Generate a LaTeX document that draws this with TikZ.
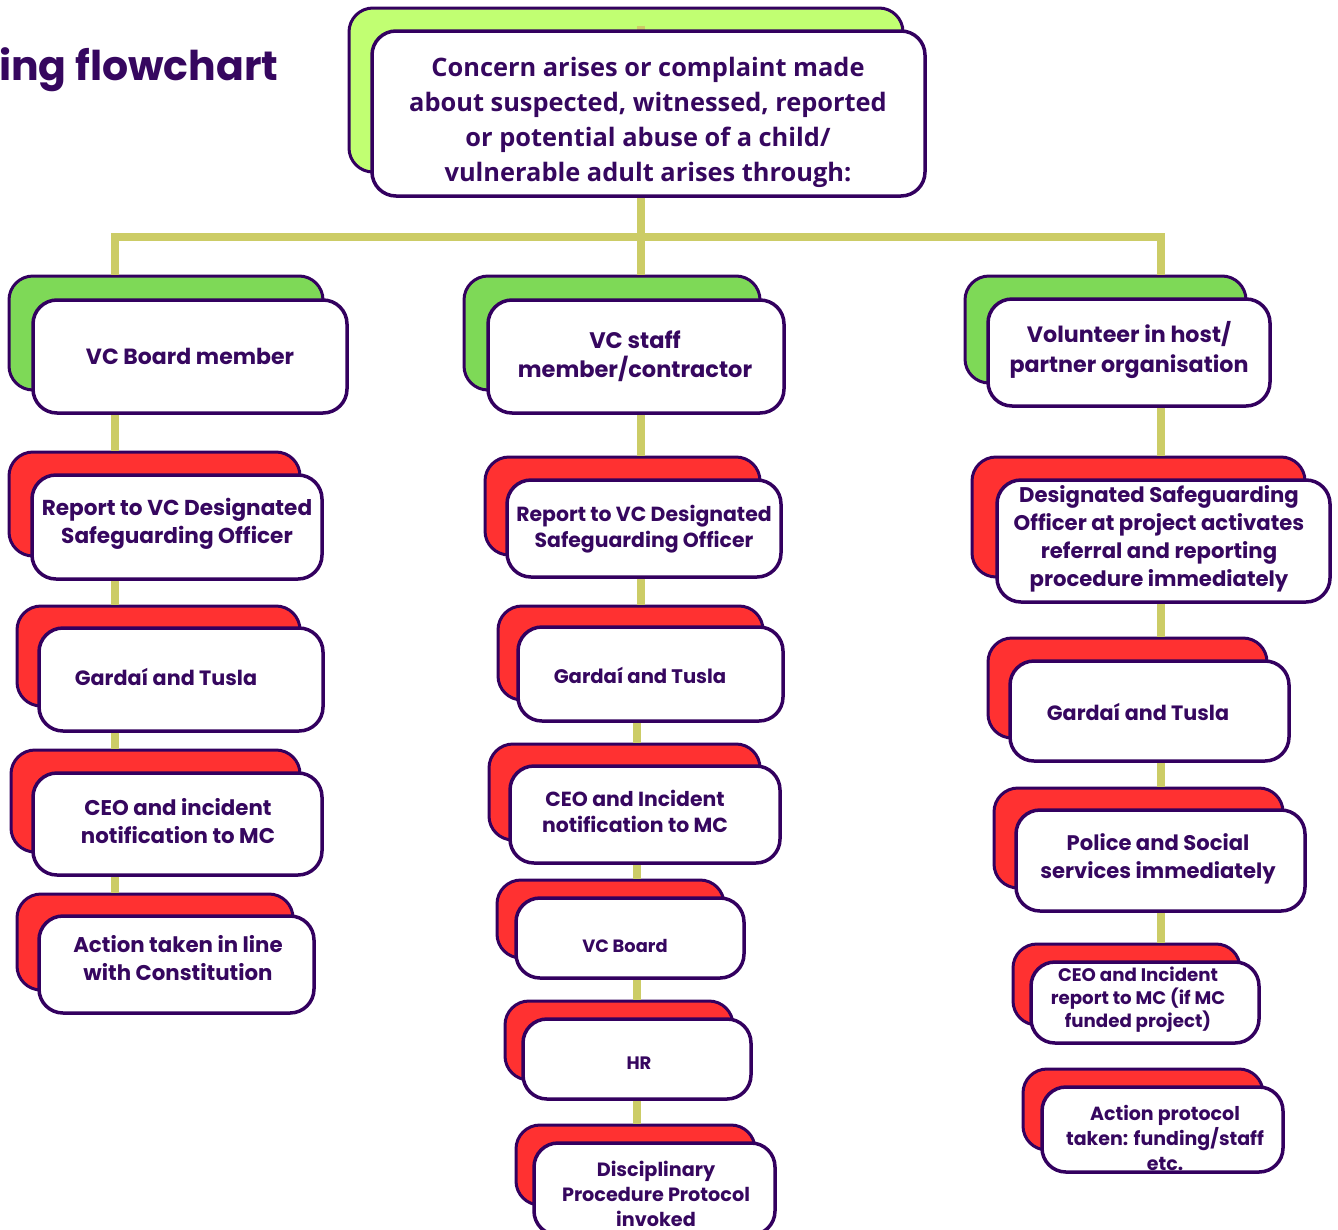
\documentclass[tikz,border=0pt]{standalone}
\usepackage{fontspec}
\setmainfont{Poppins}
\newfontfamily\opensans{Open Sans}
\definecolor{ink}{HTML}{33005F}
\definecolor{txtc}{HTML}{36075F}
\definecolor{lime}{HTML}{C1FF72}
\definecolor{grn}{HTML}{7ED957}
\definecolor{rd}{HTML}{FF3131}
\definecolor{conn}{HTML}{CCCC66}
\newcommand\bx[6]{\node[#6, minimum width={#4-#2}, minimum height={#5-#3}] (#1) at ({(#2+#4)/2},{(#3+#5)/2}) {};}
\newcommand\fs[2]{\fontsize{#1}{#2}\selectfont\bfseries}
\tikzset{
  backbox/.style={draw=ink, line width=3pt, rounded corners=24pt, inner sep=0pt, fill=#1},
  frontbox/.style={draw=ink, line width=3.5pt, rounded corners=24pt, inner sep=0pt, fill=white},
  lbl/.style={text=txtc, align=center, inner sep=0pt},
  link/.style={draw=conn, line width=8pt}
}
\begin{document}
\begin{tikzpicture}[x=1pt,y=-1pt]
\useasboundingbox[fill=white] (0,0) rectangle (1338,1229);
\coordinate (k1) at (115,0);
\coordinate (k2) at (641,0);
\coordinate (k2b) at (637,0);
\coordinate (k3) at (1161,0);
\coordinate (bar) at (0,237);
% back boxes
\bx{topb}{349}{8}{903}{172}{backbox=lime}
\bx{a1b}{9}{276}{323}{390}{backbox=grn}
\bx{a2b}{9}{452}{300}{556}{backbox=rd}
\bx{a3b}{17}{606}{300}{706}{backbox=rd}
\bx{a4b}{11}{750}{300}{852}{backbox=rd}
\bx{a5b}{17}{894}{293}{990}{backbox=rd}
\bx{b1b}{464}{276}{760}{390}{backbox=grn}
\bx{b2b}{485}{457}{760}{555}{backbox=rd}
\bx{b3b}{498}{606}{763}{700}{backbox=rd}
\bx{b4b}{489}{744}{760}{840}{backbox=rd}
\bx{b5b}{497}{880}{724}{958}{backbox=rd}
\bx{b6b}{505}{1001}{733}{1080}{backbox=rd}
\bx{b7b}{516}{1125}{755}{1205}{backbox=rd}
\bx{c1b}{965}{276}{1246}{383}{backbox=grn}
\bx{c2b}{972}{457}{1305}{577}{backbox=rd}
\bx{c3b}{988}{638}{1267}{738}{backbox=rd}
\bx{c4b}{994}{788}{1283}{888}{backbox=rd}
\bx{c5b}{1013}{944}{1240}{1025}{backbox=rd}
\bx{c6b}{1023}{1069}{1263}{1150}{backbox=rd}
% connectors
\draw[link] ([yshift=-19pt]k2 |- topb.north) -- (k2 |- bar);
\draw[link] (k1 |- a1b.north) -- (k1 |- bar) -- (k3 |- bar) -- (k3 |- c1b.north);
\draw[link] (k2 |- bar) -- (k2 |- b1b.north);
\draw[link] (k1 |- a2b.north) -- (k1 |- a1b.south) -- ++(0,1);
\draw[link] ([yshift=10pt]k1 |- a2b.south) -- (k1 |- a3b.north);
\draw[link] ([yshift=10pt]k1 |- a3b.south) -- (k1 |- a4b.north);
\draw[link] ([yshift=10pt]k1 |- a4b.south) -- (k1 |- a5b.north);
\draw[link] ([yshift=10pt]k2 |- b1b.south) -- (k2 |- b2b.north);
\draw[link] ([yshift=10pt]k2 |- b2b.south) -- (k2 |- b3b.north);
\draw[link] ([yshift=10pt]k2b |- b3b.south) -- (k2b |- b4b.north);
\draw[link] ([yshift=10pt]k2b |- b4b.south) -- (k2b |- b5b.north);
\draw[link] ([yshift=10pt]k2b |- b5b.south) -- (k2b |- b6b.north);
\draw[link] ([yshift=10pt]k2b |- b6b.south) -- (k2b |- b7b.north);
\draw[link] ([yshift=10pt]k3 |- c1b.south) -- (k3 |- c2b.north);
\draw[link] ([yshift=10pt]k3 |- c2b.south) -- (k3 |- c3b.north);
\draw[link] ([yshift=10pt]k3 |- c3b.south) -- (k3 |- c4b.north);
\draw[link] ([yshift=10pt]k3 |- c4b.south) -- (k3 |- c5b.north);
% front boxes
\bx{topf}{372}{31}{925}{196}{frontbox}
\bx{a1f}{33}{300}{347}{413}{frontbox}
\bx{a2f}{32}{475}{322}{579}{frontbox}
\bx{a3f}{39}{628}{323}{731}{frontbox}
\bx{a4f}{33}{773}{322}{875}{frontbox}
\bx{a5f}{39}{916}{314}{1013}{frontbox}
\bx{b1f}{488}{300}{784}{413}{frontbox}
\bx{b2f}{507}{480}{781}{577}{frontbox}
\bx{b3f}{518}{627}{783}{721}{frontbox}
\bx{b4f}{510}{766}{780}{863}{frontbox}
\bx{b5f}{516}{898}{744}{978}{frontbox}
\bx{b6f}{523}{1019}{751}{1099}{frontbox}
\bx{b7f}{534}{1143}{775}{1235}{frontbox}
\bx{c1f}{988}{299}{1270}{406}{frontbox}
\bx{c2f}{997}{480}{1330}{602}{frontbox}
\bx{c3f}{1010}{661}{1289}{761}{frontbox}
\bx{c4f}{1016}{810}{1305}{911}{frontbox}
\bx{c5f}{1031}{962}{1259}{1043}{frontbox}
\bx{c6f}{1042}{1087}{1283}{1172}{frontbox}
% labels
\node[lbl, anchor=base west, font=\fs{41}{48}] (title) at (-1,80) {ing flowchart};
\node[lbl, font=\opensans\fontsize{25.4}{35}\selectfont\bfseries] (ttop) at (648,122) {Concern arises or complaint made\\about suspected, witnessed, reported\\or potential abuse of a child/\\vulnerable adult arises through:};
\node[lbl, font=\fs{22}{28}] (ta1) at (190,356) {VC Board member};
\node[lbl, font=\fs{21.6}{28}] (ta2) at (177,524) {Report to VC Designated\\Safeguarding Officer};
\node[lbl, font=\fs{20.7}{28}] (ta3) at (166,677) {Gardaí and Tusla};
\node[lbl, font=\fs{21.3}{28}] (ta4) at (178,821) {CEO and incident\\notification to MC};
\node[lbl, font=\fs{21.3}{28}] (ta5) at (178,958) {Action taken in line\\with Constitution};
\node[lbl, font=\fs{22.5}{29}] (tb1) at (635,356) {VC staff\\member/contractor};
\node[lbl, font=\fs{20.4}{26}] (tb2) at (644,529) {Report to VC Designated\\Safeguarding Officer};
\node[lbl, font=\fs{19.6}{26}] (tb3) at (640,675) {Gardaí and Tusla};
\node[lbl, font=\fs{20.4}{26}] (tb4) at (635,811) {CEO and Incident\\notification to MC};
\node[lbl, font=\fs{17.8}{22}] (tb5) at (625,946) {VC Board};
\node[lbl, font=\fs{18}{22}] (tb6) at (639,1063) {HR};
\node[lbl, font=\fs{19.2}{25}] (tb7) at (656,1194) {Disciplinary\\Procedure Protocol\\invoked};
\node[lbl, font=\fs{22.2}{30}] (tc1) at (1129,350) {Volunteer in host/\\partner organisation};
\node[lbl, font=\fs{21.2}{28}] (tc2) at (1159,539) {Designated Safeguarding\\Officer at project activates\\referral and reporting\\procedure immediately};
\node[lbl, font=\fs{20.7}{28}] (tc3) at (1138,712) {Gardaí and Tusla};
\node[lbl, font=\fs{21.1}{28}] (tc4) at (1158,859) {Police and Social\\services immediately};
\node[lbl, font=\fs{18.2}{23}] (tc5) at (1138,1000) {CEO and Incident\\report to MC (if MC\\funded project)};
\node[lbl, font=\fs{19}{25}] (tc6) at (1165,1138) {Action protocol\\taken: funding/staff\\etc.};
\end{tikzpicture}
\end{document}
